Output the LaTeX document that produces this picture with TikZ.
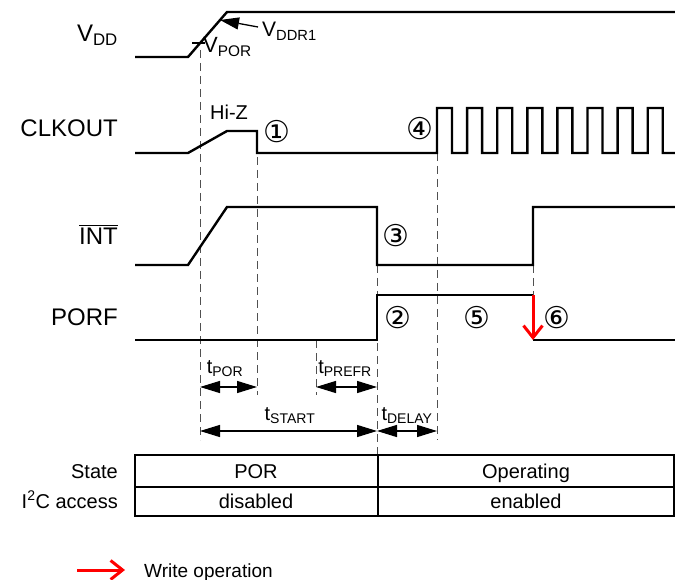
\documentclass[tikz,border=0pt]{standalone}
\usepackage{amsmath}
\usepackage{fontspec}
\setmainfont{Liberation Sans}
\newfontfamily\circfont{DejaVu Sans}
\usetikzlibrary{arrows.meta}
\definecolor{guidegray}{HTML}{505050}
\definecolor{writered}{HTML}{FF0000}

\begin{document}
\begin{tikzpicture}[x=1pt,y=-1pt,
  wave/.style={line width=2.4pt,line join=miter},
  guide/.style={guidegray,line width=0.9pt,dash pattern=on 8pt off 5pt},
  span/.style={line width=1.3pt,{Triangle[length=20pt,width=12pt]}-{Triangle[length=20pt,width=12pt]}},
  wrarrow/.style={writered,line width=3pt,-{Straight Barb[length=12pt,width=19pt]}},
  siglbl/.style={anchor=base east,inner sep=0pt,font=\fontsize{24}{28}\selectfont},
  txt/.style={anchor=base,inner sep=0pt,font=\fontsize{20}{24}\selectfont},
  circnum/.style={inner sep=0pt,font=\circfont\fontsize{30}{34}\selectfont}]
  \useasboundingbox (0,0) rectangle (675,580);
  \draw[guide] (200,50) -- (200,440);
  \draw[guide] (257,131) -- (257,395);
  \draw[guide] (316,340) -- (316,395);
  \draw[guide] (377,265) -- (377,455);
  \draw[guide] (437,153) -- (437,440);
  \draw[guide] (533,265) -- (533,295);
  \draw[wave] (135,57) -- (188,57) -- (227,12) -- (675,12);
  \draw[wave] (135,153) -- (188,153) -- (227,131) -- (257,131) -- (257,153) -- (437,153)
    \foreach \k in {0,...,7}{ -- ({437+30.1*\k},153) -- ({437+30.1*\k},108)
      -- ({452+30.1*\k},108) -- ({452+30.1*\k},153) } -- (675,153);
  \draw[wave] (135,265) -- (188,265) -- (227,207) -- (377,207) -- (377,265)
    -- (533,265) -- (533,207) -- (675,207);
  \draw[wave] (135,340) -- (377,340) -- (377,295) -- (533,295);
  \draw[wave] (533,340) -- (675,340);
  \coordinate (wrtop) at (533,295);
  \coordinate (wrbot) at (533,340);
  \draw[wrarrow] (wrtop) -- (wrbot);
  \draw[line width=1.2pt] (192,43) -- (205,43);
  \coordinate (ddr1tail) at (258,27);
  \coordinate (ddr1tip) at (220,20);
  \draw[line width=1.3pt,-{Triangle[length=19pt,width=12pt]}] (ddr1tail) -- (ddr1tip);
  \node[siglbl] (vdd) at (118,42) {V\textsubscript{DD}};
  \node[siglbl] (clkout) at (118,137) {CLKOUT};
  \node[siglbl] (int) at (118,245) {$\overline{\mbox{INT}}$};
  \node[siglbl] (porf) at (118,325) {PORF};
  \node[anchor=base west,inner sep=0pt,font=\fontsize{22}{26}\selectfont] (vpor) at (203,53) {V\textsubscript{POR}};
  \node[anchor=base west,inner sep=0pt,font=\fontsize{21}{25}\selectfont] (vddr1) at (262,37) {V\textsubscript{DDR1}};
  \node[txt] (hiz) at (229,120) {Hi-Z};
  \node[circnum] (n1) at (277,132) {①};
  \node[circnum] (n2) at (398,318) {②};
  \node[circnum] (n3) at (396,236) {③};
  \node[circnum] (n4) at (420,129) {④};
  \node[circnum] (n5) at (477,318) {⑤};
  \node[circnum] (n6) at (557,318) {⑥};
  \coordinate (porL) at (200,387);
  \coordinate (porR) at (257,387);
  \coordinate (prefrL) at (316,387);
  \coordinate (prefrR) at (377,387);
  \coordinate (startL) at (200,431);
  \coordinate (startR) at (377,431);
  \coordinate (delayR) at (437,431);
  \draw[span] (porL) -- (porR);
  \draw[span] (prefrL) -- (prefrR);
  \draw[span] (startL) -- (startR);
  \draw[span] (startR) -- (delayR);
  \node[txt] (tpor) at (225,373) {t\textsubscript{POR}};
  \node[txt] (tprefr) at (345,373) {t\textsubscript{PREFR}};
  \node[txt] (tstart) at (290,420) {t\textsubscript{START}};
  \node[txt] (tdelay) at (407,420) {t\textsubscript{DELAY}};
  \draw[line width=1.3pt] (135,455) rectangle (674,516);
  \draw[line width=1.3pt] (135,487) -- (674,487);
  \draw[line width=1.3pt] (378,455) -- (378,516);
  \node[txt,anchor=base east] (state) at (118,478) {State};
  \node[txt,anchor=base east] (i2c) at (118,508) {I\textsuperscript{2}C access};
  \node[txt] (por) at (256,478) {POR};
  \node[txt] (oper) at (526,478) {Operating};
  \node[txt] (dis) at (256,508) {disabled};
  \node[txt] (ena) at (526,508) {enabled};
  \coordinate (legtail) at (77,570);
  \coordinate (legtip) at (125,570);
  \draw[wrarrow] (legtail) -- (legtip);
  \node[txt,anchor=base west,font=\fontsize{19}{23}\selectfont] (legend) at (144,577) {Write operation};
\end{tikzpicture}
\end{document}
